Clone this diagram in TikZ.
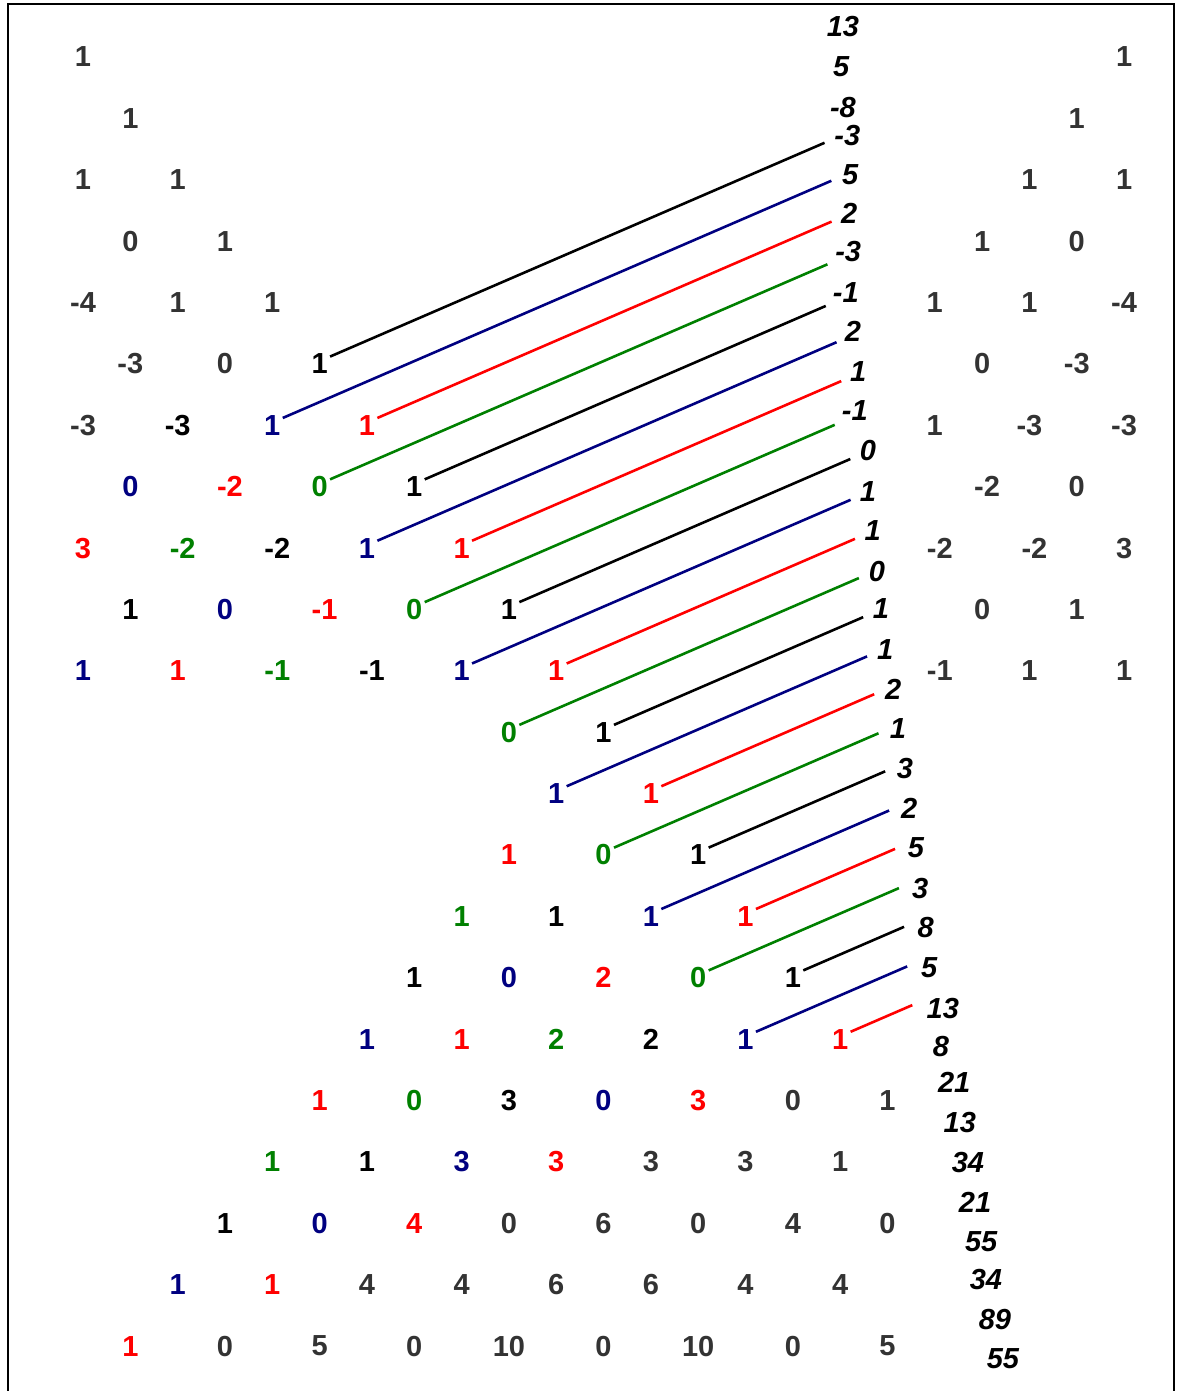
\documentclass[tikz,border=0pt]{standalone}
\usepackage{fontspec}
\setmainfont{Liberation Sans}
\usetikzlibrary{calc}
\definecolor{cellGray}{HTML}{333333}
\definecolor{cellNavy}{HTML}{000080}
\definecolor{cellRed}{HTML}{FF0000}
\definecolor{cellGreen}{HTML}{008000}
\tikzset{
  cell/.style={font=\fontsize{14.5}{17}\selectfont\bfseries, text=cellGray, inner sep=1pt},
  cellK/.style={cell, text=black},
  cellB/.style={cell, text=cellNavy},
  cellR/.style={cell, text=cellRed},
  cellG/.style={cell, text=cellGreen},
  neg/.style={xshift=2.5pt},
  sumlabel/.style={font=\fontsize{14.5}{17}\selectfont\bfseries\itshape, text=black, inner sep=2pt},
  diag/.style={line width=1.3pt, shorten >=4pt},
  frame/.style={line width=1pt}
}
% shallow diagonal from a cell up to its sum label
\newcommand{\diagto}[3]{%
  \path (#2.35) ++(3,-1) coordinate (#2-dir);
  \draw[diag, #1] (#2.35) -- ($(#2.35)!(#3.west)!(#2-dir)$);}

\begin{document}
\begin{tikzpicture}[x=23.66pt, y=-30.69pt]
  \useasboundingbox (-1.754,-0.9286) rectangle (23.098,21.733);
  \draw[frame] (-1.585,21.8) -- (-1.585,-0.8635) -- (23.056,-0.8635) -- (23.056,21.8);

  % left triangle
  \node[cell] (r0c0) at (0,0) {1};
  \node[cell] (r1c1) at (1,1) {1};
  \node[cell] (r2c0) at (0,2) {1}; \node[cell] (r2c2) at (2,2) {1};
  \node[cell] (r3c1) at (1,3) {0}; \node[cell] (r3c3) at (3,3) {1};
  \node[cell] (r4c0) at (0,4) {-4}; \node[cell] (r4c2) at (2,4) {1}; \node[cell] (r4c4) at (4,4) {1};
  \node[cell] (r5c1) at (1,5) {-3}; \node[cell] (r5c3) at (3,5) {0}; \node[cellK] (r5c5) at (5,5) {1};
  \node[cell] (r6c0) at (0,6) {-3}; \node[cellK] (r6c2) at (2,6) {-3}; \node[cellB] (r6c4) at (4,6) {1};
  \node[cellR] (r6c6) at (6,6) {1};
  \node[cellB] (r7c1) at (1,7) {0}; \node[cellR, neg] (r7c3) at (3,7) {-2}; \node[cellG] (r7c5) at (5,7) {0};
  \node[cellK] (r7c7) at (7,7) {1};
  \node[cellR] (r8c0) at (0,8) {3}; \node[cellG, neg] (r8c2) at (2,8) {-2}; \node[cellK, neg] (r8c4) at (4,8) {-2};
  \node[cellB] (r8c6) at (6,8) {1}; \node[cellR] (r8c8) at (8,8) {1};
  \node[cellK] (r9c1) at (1,9) {1}; \node[cellB] (r9c3) at (3,9) {0}; \node[cellR, neg] (r9c5) at (5,9) {-1};
  \node[cellG] (r9c7) at (7,9) {0}; \node[cellK] (r9c9) at (9,9) {1};
  \node[cellB] (r10c0) at (0,10) {1}; \node[cellR] (r10c2) at (2,10) {1}; \node[cellG, neg] (r10c4) at (4,10) {-1};
  \node[cellK, neg] (r10c6) at (6,10) {-1}; \node[cellB] (r10c8) at (8,10) {1}; \node[cellR] (r10c10) at (10,10) {1};
  \node[cellG] (r11c9) at (9,11) {0}; \node[cellK] (r11c11) at (11,11) {1};
  \node[cellB] (r12c10) at (10,12) {1}; \node[cellR] (r12c12) at (12,12) {1};
  \node[cellR] (r13c9) at (9,13) {1}; \node[cellG] (r13c11) at (11,13) {0}; \node[cellK] (r13c13) at (13,13) {1};
  \node[cellG] (r14c8) at (8,14) {1}; \node[cellK] (r14c10) at (10,14) {1}; \node[cellB] (r14c12) at (12,14) {1};
  \node[cellR] (r14c14) at (14,14) {1};
  \node[cellK] (r15c7) at (7,15) {1}; \node[cellB] (r15c9) at (9,15) {0}; \node[cellR] (r15c11) at (11,15) {2};
  \node[cellG] (r15c13) at (13,15) {0}; \node[cellK] (r15c15) at (15,15) {1};
  \node[cellB] (r16c6) at (6,16) {1}; \node[cellR] (r16c8) at (8,16) {1}; \node[cellG] (r16c10) at (10,16) {2};
  \node[cellK] (r16c12) at (12,16) {2}; \node[cellB] (r16c14) at (14,16) {1}; \node[cellR] (r16c16) at (16,16) {1};
  \node[cellR] (r17c5) at (5,17) {1}; \node[cellG] (r17c7) at (7,17) {0}; \node[cellK] (r17c9) at (9,17) {3};
  \node[cellB] (r17c11) at (11,17) {0}; \node[cellR] (r17c13) at (13,17) {3}; \node[cell] (r17c15) at (15,17) {0};
  \node[cell] (r17c17) at (17,17) {1};
  \node[cellG] (r18c4) at (4,18) {1}; \node[cellK] (r18c6) at (6,18) {1}; \node[cellB] (r18c8) at (8,18) {3};
  \node[cellR] (r18c10) at (10,18) {3}; \node[cell] (r18c12) at (12,18) {3}; \node[cell] (r18c14) at (14,18) {3};
  \node[cell] (r18c16) at (16,18) {1};
  \node[cellK] (r19c3) at (3,19) {1}; \node[cellB] (r19c5) at (5,19) {0}; \node[cellR] (r19c7) at (7,19) {4};
  \node[cell] (r19c9) at (9,19) {0}; \node[cell] (r19c11) at (11,19) {6}; \node[cell] (r19c13) at (13,19) {0};
  \node[cell] (r19c15) at (15,19) {4}; \node[cell] (r19c17) at (17,19) {0};
  \node[cellB] (r20c2) at (2,20) {1}; \node[cellR] (r20c4) at (4,20) {1}; \node[cell] (r20c6) at (6,20) {4};
  \node[cell] (r20c8) at (8,20) {4}; \node[cell] (r20c10) at (10,20) {6}; \node[cell] (r20c12) at (12,20) {6};
  \node[cell] (r20c14) at (14,20) {4}; \node[cell] (r20c16) at (16,20) {4};
  \node[cellR] (r21c1) at (1,21) {1}; \node[cell] (r21c3) at (3,21) {0}; \node[cell] (r21c5) at (5,21) {5};
  \node[cell] (r21c7) at (7,21) {0}; \node[cell] (r21c9) at (9,21) {10}; \node[cell] (r21c11) at (11,21) {0};
  \node[cell] (r21c13) at (13,21) {10}; \node[cell] (r21c15) at (15,21) {0}; \node[cell] (r21c17) at (17,21) {5};

  % right triangle
  \node[cell] (r0c22) at (22,0) {1};
  \node[cell] (r1c21) at (21,1) {1};
  \node[cell] (r2c20) at (20,2) {1}; \node[cell] (r2c22) at (22,2) {1};
  \node[cell] (r3c19) at (19,3) {1}; \node[cell] (r3c21) at (21,3) {0};
  \node[cell] (r4c18) at (18,4) {1}; \node[cell] (r4c20) at (20,4) {1}; \node[cell] (r4c22) at (22,4) {-4};
  \node[cell] (r5c19) at (19,5) {0}; \node[cell] (r5c21) at (21,5) {-3};
  \node[cell] (r6c18) at (18,6) {1}; \node[cell] (r6c20) at (20,6) {-3}; \node[cell] (r6c22) at (22,6) {-3};
  \node[cell, neg] (r7c19) at (19,7) {-2}; \node[cell] (r7c21) at (21,7) {0};
  \node[cell, neg] (r8c18) at (18,8) {-2}; \node[cell, neg] (r8c20) at (20,8) {-2}; \node[cell] (r8c22) at (22,8) {3};
  \node[cell] (r9c19) at (19,9) {0}; \node[cell] (r9c21) at (21,9) {1};
  \node[cell, neg] (r10c18) at (18,10) {-1}; \node[cell] (r10c20) at (20,10) {1}; \node[cell] (r10c22) at (22,10) {1};

  % diagonal sums
  \node[sumlabel] (s1) at (16.06,-0.49) {13};
  \node[sumlabel] (s2) at (16.02,0.163) {5};
  \node[sumlabel] (s3) at (16.06,0.815) {-8};
  \node[sumlabel] (s4) at (16.15,1.271) {-3};
  \node[sumlabel] (s5) at (16.21,1.922) {5};
  \node[sumlabel] (s6) at (16.19,2.542) {2};
  \node[sumlabel] (s7) at (16.17,3.177) {-3};
  \node[sumlabel] (s8) at (16.12,3.829) {-1};
  \node[sumlabel] (s9) at (16.27,4.464) {2};
  \node[sumlabel] (s10) at (16.38,5.116) {1};
  \node[sumlabel] (s11) at (16.31,5.767) {-1};
  \node[sumlabel] (s12) at (16.59,6.419) {0};
  \node[sumlabel] (s13) at (16.59,7.071) {1};
  \node[sumlabel] (s14) at (16.69,7.722) {1};
  \node[sumlabel] (s15) at (16.78,8.374) {0};
  \node[sumlabel] (s16) at (16.86,8.993) {1};
  \node[sumlabel] (s17) at (16.95,9.645) {1};
  \node[sumlabel] (s18) at (17.12,10.297) {2};
  \node[sumlabel] (s19) at (17.22,10.948) {1};
  \node[sumlabel] (s20) at (17.37,11.584) {3};
  \node[sumlabel] (s21) at (17.46,12.235) {2};
  \node[sumlabel] (s22) at (17.60,12.887) {5};
  \node[sumlabel] (s23) at (17.69,13.539) {3};
  \node[sumlabel] (s24) at (17.81,14.190) {8};
  \node[sumlabel] (s25) at (17.88,14.842) {5};
  \node[sumlabel] (s26) at (18.17,15.494) {13};
  \node[sumlabel] (s27) at (18.13,16.113) {8};
  \node[sumlabel] (s28) at (18.41,16.699) {21};
  \node[sumlabel] (s29) at (18.53,17.351) {13};
  \node[sumlabel] (s30) at (18.70,18.003) {34};
  \node[sumlabel] (s31) at (18.85,18.655) {21};
  \node[sumlabel] (s32) at (18.98,19.306) {55};
  \node[sumlabel] (s33) at (19.08,19.909) {34};
  \node[sumlabel] (s34) at (19.27,20.561) {89};
  \node[sumlabel] (s35) at (19.44,21.213) {55};

  \diagto{black}{r5c5}{s4}
  \diagto{cellNavy}{r6c4}{s5}
  \diagto{cellRed}{r6c6}{s6}
  \diagto{cellGreen}{r7c5}{s7}
  \diagto{black}{r7c7}{s8}
  \diagto{cellNavy}{r8c6}{s9}
  \diagto{cellRed}{r8c8}{s10}
  \diagto{cellGreen}{r9c7}{s11}
  \diagto{black}{r9c9}{s12}
  \diagto{cellNavy}{r10c8}{s13}
  \diagto{cellRed}{r10c10}{s14}
  \diagto{cellGreen}{r11c9}{s15}
  \diagto{black}{r11c11}{s16}
  \diagto{cellNavy}{r12c10}{s17}
  \diagto{cellRed}{r12c12}{s18}
  \diagto{cellGreen}{r13c11}{s19}
  \diagto{black}{r13c13}{s20}
  \diagto{cellNavy}{r14c12}{s21}
  \diagto{cellRed}{r14c14}{s22}
  \diagto{cellGreen}{r15c13}{s23}
  \diagto{black}{r15c15}{s24}
  \diagto{cellNavy}{r16c14}{s25}
  \diagto{cellRed}{r16c16}{s26}
\end{tikzpicture}
\end{document}
